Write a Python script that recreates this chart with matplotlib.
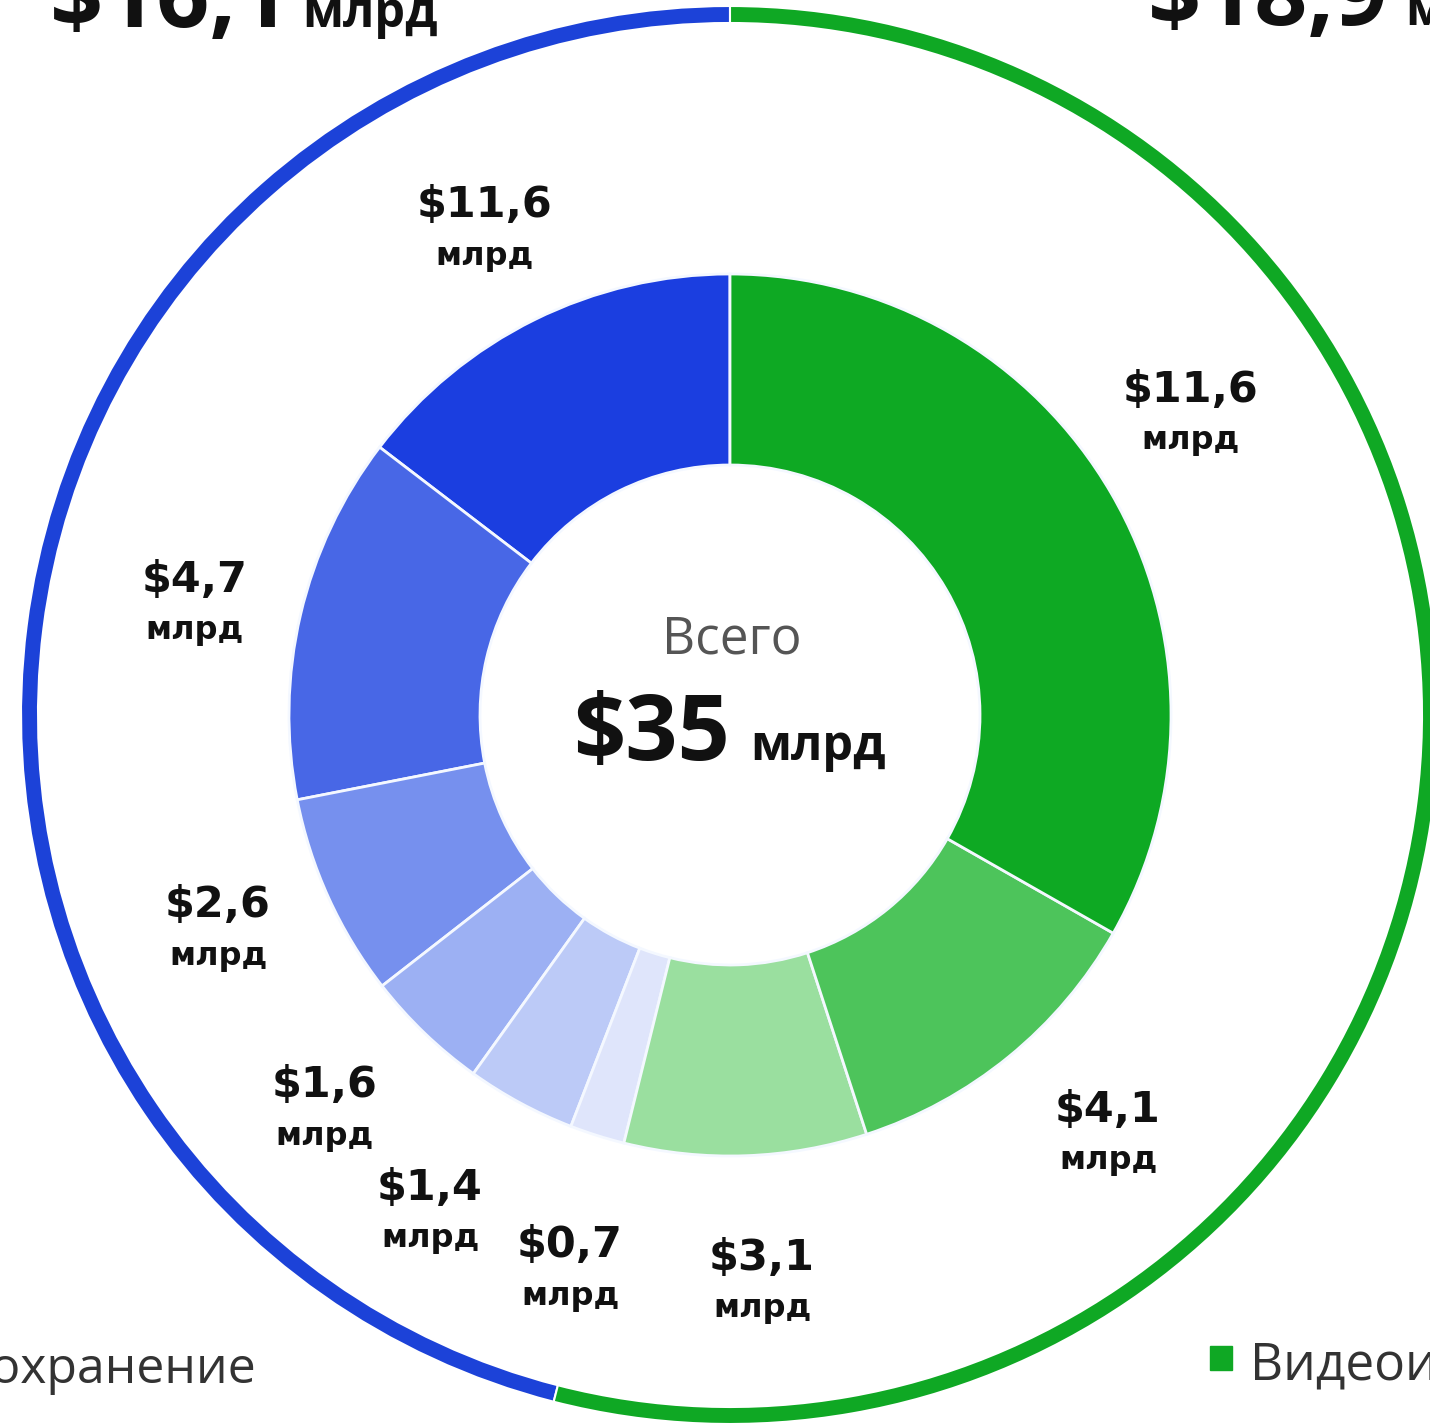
import matplotlib
matplotlib.use("Agg")
import matplotlib.pyplot as plt
from matplotlib.patches import Rectangle

plt.rcParams['font.family'] = ['Open Sans', 'DejaVu Sans']
LABEL_FONT = ['DejaVu Sans']

# inner ring, counter-clockwise from 12 o'clock
# (the top blue slice is drawn at its real share, ~5.1, while the source labels it $11,6)
seg_values = [5.1, 4.7, 2.6, 1.6, 1.4, 0.7, 3.1, 4.1, 11.6]
seg_labels = ["$11,6", "$4,7", "$2,6", "$1,6", "$1,4", "$0,7", "$3,1", "$4,1", "$11,6"]
seg_colors = ["#1b3ee0", "#4867e6", "#7690ee", "#9cb0f3", "#bccaf7", "#dfe5fb",
              "#9adf9f", "#4dc45b", "#0ea923"]

# outer ring: two groups
group_names = ["Здравоохранение", "Видеоигры"]
group_values = [16.1, 18.9]
group_labels = ["$16,1", "$18,9"]
group_colors = ["#1c42d8", "#0fa824"]
total_label = "$35"

# label positions in pixels (x, y from top-left)
label_pos = [(485, 205), (195, 580), (218, 905), (325, 1085), (430, 1188),
             (570, 1245), (762, 1258), (1108, 1110), (1190, 390)]

W, H = 1430, 1426
cx, cy = 730, 715

fig = plt.figure(figsize=(W / 100, H / 100), dpi=100)
ax = fig.add_axes([0, 0, 1, 1])
ax.set_xlim(-cx, W - cx)
ax.set_ylim(-(H - cy), cy)
ax.set_aspect('equal')
ax.axis('off')


def px(x, y):
    return x - cx, cy - y


# outer thin ring
ax.pie(group_values, colors=group_colors, startangle=90, counterclock=True,
       radius=709, wedgeprops=dict(width=17, edgecolor='white', linewidth=1.5))

# inner donut
ax.pie(seg_values, colors=seg_colors, startangle=90, counterclock=True,
       radius=441, wedgeprops=dict(width=191, edgecolor='#f4f8ff', linewidth=2))

ax.set_xlim(-cx, W - cx)
ax.set_ylim(-(H - cy), cy)

for lab, (x, y) in zip(seg_labels, label_pos):
    ax.text(*px(x, y), lab, ha='center', va='center', fontsize=31,
            fontweight='bold', color='#111111', family=LABEL_FONT)
    ax.text(*px(x, y + 51), "млрд", ha='center', va='center', fontsize=23,
            fontweight='bold', color='#111111', family=LABEL_FONT)

# centre
ax.text(*px(732, 640), "Всего", ha='center', va='center', fontsize=37,
        color='#555555')
ax.text(*px(573, 760), total_label, ha='left', va='baseline', fontsize=66,
        fontweight='bold', color='#111111')
ax.text(*px(750, 760), "млрд", ha='left', va='baseline', fontsize=35,
        fontweight='bold', color='#111111')

# group totals at the top (cut by the frame)
ax.text(*px(50, 27), group_labels[0], ha='left', va='baseline', fontsize=67,
        fontweight='bold', color='#111111')
ax.text(*px(302, 27), "млрд", ha='left', va='baseline', fontsize=35,
        fontweight='bold', color='#111111')
ax.text(*px(1148, 25), group_labels[1], ha='left', va='baseline', fontsize=67,
        fontweight='bold', color='#111111')
ax.text(*px(1405, 25), "млрд", ha='left', va='baseline', fontsize=35,
        fontweight='bold', color='#111111')

# legend fragments at the bottom
ax.text(*px(256, 1383), "■ " + group_names[0], ha='right', va='baseline',
        fontsize=36, color='#333333')
x0, y0 = px(1210, 1370)
ax.add_patch(Rectangle((x0, y0), 22, 24, color=group_colors[1]))
ax.text(*px(1250, 1380), group_names[1], ha='left', va='baseline',
        fontsize=37, color='#333333')

fig.savefig("out.png", dpi=100, facecolor='white')
